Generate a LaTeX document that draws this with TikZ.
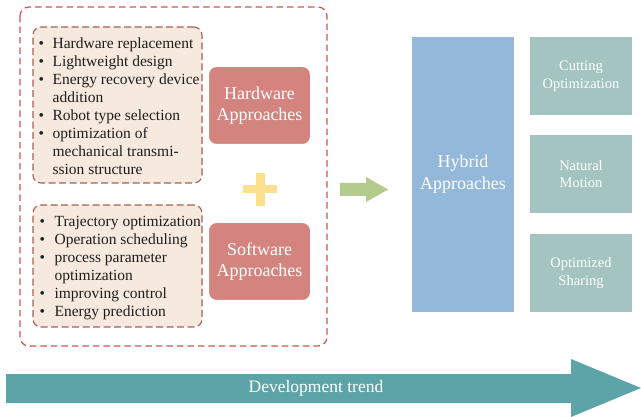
\documentclass[tikz,border=0pt]{standalone}
\usepackage{fontspec}
\setmainfont{Liberation Serif}
\definecolor{outerred}{HTML}{CF5650}
\definecolor{listedge}{HTML}{A65F58}
\definecolor{listfill}{HTML}{F6E9DD}
\definecolor{approach}{HTML}{D4847E}
\definecolor{plusyellow}{HTML}{FCE08E}
\definecolor{greenarrow}{HTML}{B3CB8A}
\definecolor{hybridblue}{HTML}{94B8D9}
\definecolor{subteal}{HTML}{A3C4C0}
\definecolor{trendteal}{HTML}{5DA4A9}
\definecolor{listtext}{HTML}{1E1E1E}
\tikzset{
  groupframe/.style={draw=outerred, line width=1.2pt, dash pattern=on 6.5pt off 4pt, rounded corners=9pt},
  listbox/.style={draw=listedge, fill=listfill, line width=1.1pt, dash pattern=on 7pt off 3.5pt, rounded corners=8pt, inner sep=0pt},
  listtxt/.style={inner sep=0pt, anchor=base west, text=listtext, font=\fontsize{15.5}{17.9}\selectfont},
  approachbox/.style={fill=approach, draw=white, line width=1pt, rounded corners=8pt, text=white, align=center, inner sep=0pt, font=\fontsize{18}{21.5}\selectfont},
  hybridbox/.style={fill=hybridblue, text=white, align=center, inner sep=0pt, font=\fontsize{18}{22}\selectfont},
  subbox/.style={fill=subteal, text=white, align=center, inner sep=0pt, minimum width=102pt, minimum height=78pt, font=\fontsize{14.5}{17.5}\selectfont},
  trendtxt/.style={text=white, inner sep=0pt, font=\fontsize{17.5}{20}\selectfont}
}
\begin{document}
\begin{tikzpicture}[x=1pt,y=-1pt]
\useasboundingbox (0,0) rectangle (641,417);

% dashed frame around hardware and software approaches
\draw[groupframe] (20,7) rectangle (327,346);

% hardware measures
\node[listbox, minimum width=169pt, minimum height=156pt] (hwlist) at (117.5,105) {};
\node[listtxt] (hwitems) at (38.5,49) {\begin{tabular}[t]{@{}l@{\hspace{8.5pt}}l@{}}
\textbullet & Hardware replacement\\
\textbullet & Lightweight design\\
\textbullet & Energy recovery device\\
 & addition\\
\textbullet & Robot type selection\\
\textbullet & optimization of\\
 & mechanical transmi-\\
 & ssion structure
\end{tabular}};
\node[approachbox, minimum width=102pt, minimum height=78pt] (hw) at (259.5,105.5) {Hardware\\Approaches};

% plus sign
\fill[plusyellow] (243,185) rectangle (277,193.5);
\fill[plusyellow] (255.5,173) rectangle (264.5,206);

% software measures
\node[listbox, minimum width=169pt, minimum height=122pt] (swlist) at (117.5,266) {};
\node[listtxt] (switems) at (39.5,227) {\begin{tabular}[t]{@{}l@{\hspace{9.5pt}}l@{}}
\textbullet & Trajectory optimization\\
\textbullet & Operation scheduling\\
\textbullet & process parameter\\
 & optimization\\
\textbullet & improving control\\
\textbullet & Energy prediction
\end{tabular}};
\node[approachbox, minimum width=102pt, minimum height=78pt] (sw) at (259.5,261.5) {Software\\Approaches};

% arrow towards the hybrid approaches
\fill[greenarrow] (340,183) -- (366,183) -- (366,177) -- (388,189.5) -- (366,202) -- (366,196) -- (340,196) -- cycle;

% hybrid approaches and their branches
\node[hybridbox, minimum width=102pt, minimum height=275pt] (hybrid) at (463,174.5) {Hybrid\\Approaches};
\node[subbox] (cut) at (581,76) {Cutting\\Optimization};
\node[subbox] (nat) at (581,174) {Natural\\Motion};
\node[subbox] (share) at (581,273) {Optimized\\Sharing};

% development trend arrow
\fill[trendteal] (6,374) -- (571,374) -- (571,359) -- (641,388) -- (571,417) -- (571,403) -- (6,403) -- cycle;
\node[trendtxt] (trend) at (316,388.5) {Development trend};
\end{tikzpicture}
\end{document}
